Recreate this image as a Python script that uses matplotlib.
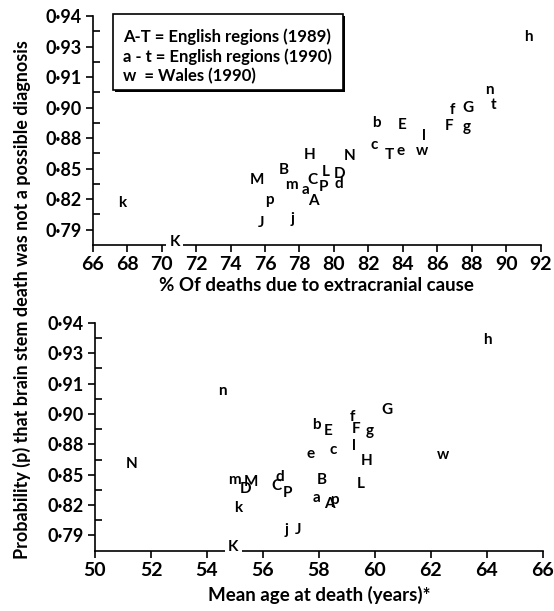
import numpy as np
import matplotlib
matplotlib.use("Agg")
from matplotlib import pyplot as plt
from matplotlib.patches import Rectangle

plt.rcParams['font.family'] = ['Lato', 'DejaVu Sans']
plt.rcParams['font.weight'] = 'bold'
plt.rcParams['axes.labelweight'] = 'bold'

# y axis labels (the scale is not linear in p)
p_ticks = [0.79, 0.82, 0.85, 0.88, 0.90, 0.91, 0.93, 0.94]
p_tick_labels = ['0·79', '0·82', '0·85', '0·88', '0·90', '0·91', '0·93', '0·94']

# top panel: % of deaths due to extracranial cause
top_labels = ['A', 'B', 'C', 'D', 'E', 'F', 'G', 'H', 'J', 'K', 'L', 'M', 'N', 'P', 'T',
              'a', 'b', 'c', 'd', 'e', 'f', 'g', 'h', 'j', 'k', 'l', 'm', 'n', 'p', 't', 'w']
top_x = [78.78, 77.08, 78.78, 80.30, 83.93, 86.69, 87.79, 78.58, 75.79, 70.75, 79.51, 75.54, 80.94, 79.39, 83.20,
         78.35, 82.44, 82.35, 80.28, 83.89, 86.89, 87.69, 91.30, 77.60, 67.72, 85.22, 77.56, 89.00, 76.25, 89.28, 85.11]
top_p = [0.818, 0.8485, 0.839, 0.845, 0.8888, 0.8882, 0.8998, 0.8636, 0.797, 0.778, 0.8467, 0.839, 0.862, 0.832, 0.863,
         0.829, 0.8902, 0.873, 0.835, 0.8677, 0.8986, 0.887, 0.9332, 0.801, 0.816, 0.8814, 0.834, 0.9058, 0.8195, 0.901, 0.8674]

# bottom panel: mean age at death
bottom_labels = ['A', 'B', 'C', 'D', 'E', 'F', 'G', 'H', 'J', 'K', 'L', 'M', 'N', 'P',
                 'a', 'b', 'c', 'd', 'e', 'f', 'g', 'h', 'j', 'k', 'l', 'm', 'n', 'p', 'w']
bottom_x = [58.37, 58.12, 56.47, 55.38, 58.32, 59.33, 60.43, 59.70, 57.27, 54.94, 59.49, 55.57, 51.31, 56.89,
            57.92, 57.92, 58.50, 56.61, 57.71, 59.21, 59.83, 64.03, 56.83, 55.12, 59.27, 55.00, 54.56, 58.54, 62.45]
bottom_p = [0.821, 0.8443, 0.839, 0.836, 0.8888, 0.8902, 0.9012, 0.864, 0.7954, 0.779, 0.841, 0.8425, 0.8608, 0.8317,
            0.827, 0.8925, 0.874, 0.8476, 0.8707, 0.898, 0.889, 0.9343, 0.7954, 0.8172, 0.8788, 0.8443, 0.9076, 0.825, 0.869]

legend_lines = ['A-T = English regions (1989)',
                'a - t = English regions (1990)',
                'w  = Wales (1990)']


def to_pos(p):
    p = np.asarray(p, dtype=float)
    pos = np.interp(p, p_ticks, np.arange(len(p_ticks)))
    below = p < p_ticks[0]
    pos[below] = (p[below] - p_ticks[0]) / (p_ticks[1] - p_ticks[0])
    return pos


def style_axes(ax, xmin, xmax):
    ax.set_xlim(xmin, xmax)
    ax.set_ylim(-0.5, 7)
    for s in ['top', 'right']:
        ax.spines[s].set_visible(False)
    for s in ['left', 'bottom']:
        ax.spines[s].set_linewidth(1.2)
    ax.spines['left'].set_bounds(-0.5, 7)
    ax.set_xticks(np.arange(xmin, xmax + 1, 2))
    ax.set_yticks(np.arange(len(p_ticks)))
    ax.set_yticklabels(p_tick_labels)
    ax.set_yticks(np.arange(0.5, 7, 1), minor=True)
    ax.tick_params(axis='y', which='major', direction='out', length=5, width=1.2, labelsize=13, pad=3)
    ax.tick_params(axis='y', which='minor', direction='in', length=5, width=1.2)
    ax.tick_params(axis='x', which='major', direction='out', length=5, width=1.2, labelsize=14, pad=3)


def draw_letters(ax, labels, xs, ps):
    ys = to_pos(ps)
    for lab, x, y in zip(labels, xs, ys):
        kw = {}
        if lab == 'K':
            kw['bbox'] = dict(fc='white', ec='none', pad=2.5)
        ax.text(x, y, lab, ha='center', va='center', fontsize=11, fontweight='bold',
                zorder=5, clip_on=False, **kw)


fig = plt.figure(figsize=(5.54, 6.11), dpi=100)

ax1 = fig.add_axes([0.1673, 0.599, 0.8087, 0.3748])
style_axes(ax1, 66, 92)
draw_letters(ax1, top_labels, top_x, top_p)
ax1.set_xlabel('% Of deaths due to extracranial cause', fontsize=13.5, labelpad=3)

# legend box with shadow
ax1.add_patch(Rectangle((0.050, 0.668), 0.514, 0.333, transform=ax1.transAxes,
                        fc='black', ec='none', clip_on=False, zorder=4))
ax1.add_patch(Rectangle((0.045, 0.677), 0.514, 0.333, transform=ax1.transAxes,
                        fc='white', ec='black', lw=1.2, clip_on=False, zorder=4))
for i, line in enumerate(legend_lines):
    ax1.text(0.068, 0.911 - i * 0.087, line, transform=ax1.transAxes, ha='left', va='center',
             fontsize=12, fontweight='bold', zorder=6)

ax2 = fig.add_axes([0.1715, 0.0987, 0.8081, 0.3731])
style_axes(ax2, 50, 66)
draw_letters(ax2, bottom_labels, bottom_x, bottom_p)
ax2.set_xlabel('Mean age at death (years)*', fontsize=13.5, labelpad=5)

fig.text(22 / 554, 1 - 300 / 611, 'Probability (p) that brain stem death was not a possible diagnosis',
         rotation=90, ha='center', va='center', fontsize=13, fontweight='bold')

fig.savefig('out.png', dpi=100)
